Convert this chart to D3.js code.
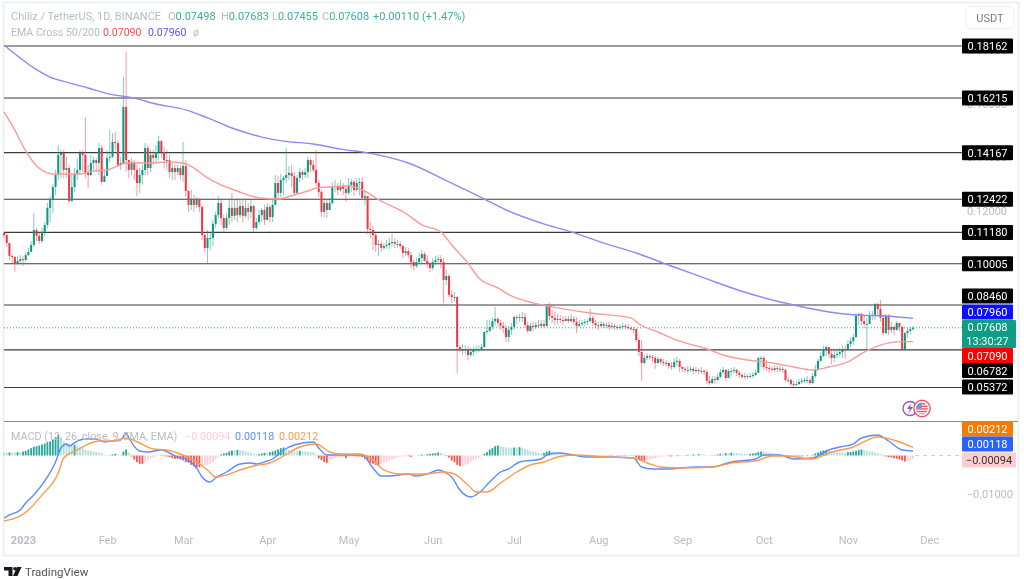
<!DOCTYPE html>
<html>
<head>
<meta charset="utf-8">
<title>Chiliz / TetherUS</title>
<script src="https://cdn.jsdelivr.net/npm/d3@7"></script>
<style>
  html, body { margin: 0; padding: 0; background: #fff; }
  svg { display: block; filter: blur(0.35px); }
  text { font-family: Roboto, "Open Sans", sans-serif; }
</style>
</head>
<body>
<div id="chart"></div>
<script>
// Daily candles in 1e-4 USDT, one value per day from 25 Dec 2022. Open = previous close.
const firstOpen = 1116;
const candleClose = [
  1108,1078,1030,1026,1003,1011,1018,1015,1033,1045, 1071,1127,1105,1086,1120,1146,1210,1240,1288,1333,
  1408,1416,1352,1359,1236,1288,1337,1352,1416,1408, 1341,1333,1378,1389,1378,1434,1307,1329,1397,1401,
  1457,1453,1371,1378,1588,1389,1352,1382,1352,1303, 1333,1352,1434,1359,1408,1397,1419,1460,1419,1389,
  1389,1344,1359,1344,1359,1333,1367,1273,1221,1240, 1221,1240,1213,1108,1060,1097,1097,1150,1183,1228,
  1172,1135,1172,1210,1180,1210,1183,1217,1180,1210, 1195,1217,1135,1157,1183,1202,1165,1213,1176,1221,
  1303,1266,1314,1322,1333,1341,1329,1266,1322,1344, 1333,1344,1389,1371,1352,1303,1269,1195,1228,1202,
  1228,1288,1292,1277,1292,1281,1266,1296,1307,1277, 1303,1307,1247,1254,1131,1127,1108,1071,1075,1060,
  1067,1071,1078,1082,1075,1075,1067,1041,1048,1033, 1007,992,1007,1022,1037,1011,1000,985,1007,1015,
  1018,1007,940,955,884,876,876,689,678,678, 681,659,670,678,681,681,689,745,749,764,
  786,794,779,768,760,726,753,764,801,798, 801,801,771,749,768,764,771,768,775,768,
  846,805,798,790,794,790,786,794,786,794, 783,768,775,779,783,786,798,779,771,768,
  775,768,771,764,768,764,760,764,768,764, 760,756,756,715,670,629,648,655,651,648,
  629,644,633,629,629,618,614,633,637,614, 607,603,603,607,599,603,599,599,595,562,
  554,569,565,577,595,603,573,599,599,603, 592,584,577,580,577,580,584,592,648,648,
  614,610,607,603,610,607,607,603,565,565, 550,547,550,558,562,565,565,554,580,603,
  637,655,681,689,663,648,659,663,670,681, 678,700,711,726,805,813,786,775,775,805,
  809,850,831,798,741,805,753,764,753,779, 764,681,741,749,756,761
];
const candleHigh = [
  1120,1116,1078,1037,1030,1030,1033,1030,1045,1060, 1086,1191,1135,1116,1135,1157,1228,1254,1299,1352,
  1445,1427,1427,1401,1371,1333,1359,1397,1427,1427, 1550,1371,1408,1401,1397,1453,1445,1352,1427,1502,
  1490,1494,1464,1401,1700,1794,1389,1397,1389,1371, 1359,1371,1453,1445,1427,1427,1445,1479,1464,1438,
  1427,1408,1382,1371,1371,1371,1457,1389,1277,1277, 1258,1251,1247,1221,1120,1127,1120,1165,1195,1254,
  1240,1183,1191,1240,1266,1240,1247,1240,1240,1243, 1228,1240,1221,1172,1202,1210,1221,1228,1221,1240,
  1333,1329,1337,1329,1434,1367,1371,1344,1333,1359, 1352,1359,1401,1397,1389,1427,1314,1277,1247,1240,
  1247,1307,1314,1303,1314,1303,1288,1322,1318,1314, 1322,1322,1322,1277,1254,1157,1142,1116,1090,1086,
  1078,1090,1097,1112,1097,1090,1086,1071,1063,1060, 1045,1015,1022,1041,1052,1045,1033,1007,1022,1030,
  1033,1033,1022,977,962,902,895,880,696,700, 696,693,685,689,693,696,700,749,790,790,
  798,839,801,790,783,771,768,779,805,809, 813,820,816,783,779,783,783,790,790,790,
  850,854,827,820,813,809,805,805,805,813, 805,801,790,790,794,794,831,805,790,783,
  786,783,783,783,779,775,771,775,779,775, 775,768,764,760,723,715,659,666,663,659,
  655,655,648,644,640,633,633,648,651,644, 618,614,618,618,614,614,610,614,607,603,
  580,580,580,588,607,614,607,607,610,614, 607,599,592,592,588,592,595,603,651,655,
  655,640,622,618,622,618,618,614,607,577, 569,562,562,569,573,573,580,573,592,622,
  644,670,693,693,681,681,674,678,685,696, 693,715,726,738,816,816,816,805,798,824,
  824,854,854,865,809,813,813,783,771,786, 779,768,745,760,764,768
];
const candleLow = [
  1097,1063,1015,1000,970,996,1000,992,1007,1030, 1045,1063,1086,1075,1078,1105,1135,1157,1191,1258,
  1314,1322,1322,1322,1228,1232,1269,1314,1333,1344, 1322,1284,1329,1352,1344,1333,1296,1307,1333,1382,
  1397,1427,1363,1352,1378,1344,1322,1333,1314,1254, 1266,1296,1333,1333,1344,1371,1378,1389,1397,1359,
  1352,1322,1314,1314,1333,1314,1307,1251,1195,1202, 1195,1210,1195,1090,1045,1003,1052,1067,1135,1172,
  1146,1120,1127,1146,1157,1165,1157,1172,1157,1172, 1165,1172,1120,1127,1146,1157,1146,1165,1157,1157,
  1221,1240,1251,1258,1303,1314,1288,1258,1266,1307, 1314,1322,1322,1344,1344,1292,1251,1176,1176,1172,
  1202,1221,1269,1258,1269,1258,1232,1258,1269,1254, 1269,1258,1240,1221,1112,1097,1052,1045,1030,1045,
  1052,1056,1056,1063,1060,1060,1056,1022,1030,1022, 985,977,985,1000,1003,1015,985,970,977,996,
  1003,985,854,921,876,854,858,592,670,659, 663,640,651,655,666,670,674,685,734,745,
  753,771,764,753,741,708,708,734,753,775, 783,783,760,741,745,749,756,760,760,760,
  764,790,779,771,775,779,771,783,779,779, 771,741,764,768,768,771,783,768,760,753,
  764,760,760,753,756,753,753,753,756,756, 753,749,741,708,655,562,625,640,640,633,
  607,625,622,618,618,607,603,607,618,595, 595,592,592,595,588,592,588,588,584,550,
  547,550,550,562,573,588,562,573,580,588, 580,573,569,569,569,573,573,580,592,614,
  603,599,592,595,595,595,595,592,558,554, 543,539,543,547,550,554,554,547,550,573,
  599,633,651,655,648,625,633,644,651,648, 644,674,689,696,723,771,771,760,681,783,
  790,790,805,783,734,738,734,741,734,749, 749,678,681,723,738,749
];

// EMA cross at the listed days (index into the candles)
const ema50Days = [0,3,8,12,16,18,23,28,33,38,42,45,48,53,60,66,70,75,80,87,94,101,107,112,115,120,126,133,137,149,154,161,165,171,175,182,187,195,202,216,231,234,241,249,258,265,274,283,291,298,304,311,317,323,329,335];
const ema50 = [1569,1520,1423,1367,1341,1337,1337,1337,1348,1352,1367,1378,1378,1378,1382,1378,1359,1322,1296,1269,1247,1243,1258,1273,1284,1288,1292,1273,1247,1183,1146,1120,1071,1003,947,910,880,854,839,816,798,775,745,711,685,659,640,629,614,603,614,633,670,696,708,709];
const ema200Days = [0,6,11,17,23,31,39,48,56,67,75,84,95,103,114,124,134,149,164,177,185,198,209,222,233,243,249,260,274,291,304,314,325,335];
const ema200 = [1820,1771,1734,1700,1681,1659,1636,1621,1599,1577,1547,1509,1475,1460,1449,1430,1416,1378,1307,1243,1202,1153,1120,1075,1041,1003,981,940,891,846,820,809,805,796];

// MACD in 1e-5 USDT
const macdDays = [0,2,6,8,11,16,19,21,23,24,27,30,34,37,40,43,45,46,50,53,58,61,64,67,71,73,76,78,82,87,91,93,97,99,103,107,114,116,119,124,132,136,139,142,149,152,157,160,163,165,168,172,175,179,183,186,190,198,200,204,210,214,222,232,235,239,245,249,255,261,268,277,280,286,291,298,304,308,313,316,322,326,331,335];
const macdLine = [-1652,-1565,-1433,-1249,-1039,-565,-171,197,302,250,381,434,434,355,381,408,592,460,118,92,145,66,-39,-92,-329,-565,-697,-592,-434,-224,-197,-224,-145,-92,145,276,355,197,13,13,13,-329,-539,-539,-487,-539,-460,-381,-460,-565,-907,-1091,-986,-697,-434,-355,-171,-92,13,66,13,-39,-39,-66,-302,-355,-355,-329,-302,-302,-171,-92,13,13,-92,-66,145,224,302,460,539,381,145,118];
const signalDays = [0,6,9,14,20,22,27,32,35,40,45,50,55,60,65,71,75,78,82,87,92,98,103,109,115,120,124,131,135,140,146,155,162,166,171,174,178,183,189,194,199,204,210,222,232,237,242,249,261,268,277,283,288,298,304,313,322,329,335];
const signalLine = [-1723,-1591,-1433,-1039,-460,-66,145,329,381,381,460,329,171,145,39,-171,-381,-565,-513,-381,-276,-197,-13,224,302,92,39,39,-66,-381,-487,-487,-434,-487,-776,-960,-960,-723,-434,-250,-171,-39,13,-39,-66,-197,-302,-329,-302,-197,-145,-13,-13,-92,66,224,487,381,212];
const macdHist = [
  70,70,79,79,79,88,88,105,123,158, 193,228,246,263,289,316,351,368,421,482,
  553,482,368,333,307,263,281,246,219,193, 158,132,123,105,88,70,70,26,9,-9,
  26,44,26,18,105,158,70,-26,-105,-175, -219,-219,-175,-132,-88,-53,-26,-9,-9,-18,
  -26,-44,-70,-88,-88,-105,-132,-175,-193,-246, -281,-307,-307,-281,-263,-246,-219,-175,-105,-44,
  26,53,70,105,132,132,149,132,132,105, 88,70,44,26,35,53,70,70,88,105,
  132,158,193,210,158,140,105,105,105,123, 105,105,105,88,88,35,-70,-123,-175,-193,
  -132,-105,-70,-53,-44,-35,-70,-26,-18,-18, -26,-26,-44,-88,-132,-193,-219,-246,-246,-219,
  -193,-175,-132,-105,-70,-44,-35,-26,-18,-18, -35,-18,-9,9,26,26,35,44,53,61,
  79,70,35,-18,-53,-132,-175,-246,-281,-263, -246,-219,-175,-132,-88,-53,-26,44,88,158,
  193,246,263,246,228,210,210,193,210,210, 219,202,175,149,123,105,88,70,53,70,
  105,123,88,70,53,35,26,18,9,9, -9,9,9,-9,9,9,-9,-9,9,-9,
  -9,9,-9,-9,-18,-9,9,-9,-9,-18, -9,-9,-9,-53,-105,-132,-140,-123,-105,-88,
  -70,-44,-35,-26,-18,-18,-26,-9,-18,9, 9,-9,18,18,26,26,35,26,18,9,
  9,-9,9,26,44,44,61,61,70,70, 61,53,44,44,35,44,53,70,88,105,
  105,88,79,70,53,35,18,9,-9,-18, -26,-26,-26,-26,-26,-18,-18,-9,18,53,
  79,114,132,140,123,114,96,88,79,79, 70,88,96,105,123,140,158,149,123,114,
  105,79,61,35,-9,-26,-44,-53,-70,-88, -105,-132,-158,-132,-114,-94
];

// Horizontal levels and axis ticks
const priceLevels = [0.18162, 0.16215, 0.14167, 0.12422, 0.11180, 0.10005, 0.08460, 0.06782, 0.05372];
const priceTicks = [0.18, 0.16, 0.14, 0.12];
const macdTicks = [-0.01];
const lastPrice = 0.07608;
const ema50Last = 0.07090;
const ema200Last = 0.07960;
const monthTicks = [[2023,0,'2023'],[2023,1,'Feb'],[2023,2,'Mar'],[2023,3,'Apr'],[2023,4,'May'],[2023,5,'Jun'],[2023,6,'Jul'],[2023,7,'Aug'],[2023,8,'Sep'],[2023,9,'Oct'],[2023,10,'Nov'],[2023,11,'Dec']];

const width = 1024, height = 579;
const left = 4, axisLeft = 962, frameRight = 1018;
const up = '#089981', down = '#f23645';
const greyText = '#b8bbc4';

const svg = d3.select('#chart').append('svg')
  .attr('width', width)
  .attr('height', height);

// One date per candle
const dates = candleClose.map((_, i) => new Date(Date.UTC(2022, 11, 25 + i)));
const x = d3.scaleUtc()
  .domain([dates[0], dates[dates.length - 1]])
  .range([left, 913]);
const y = d3.scaleLinear().domain([0.18162, 0.05372]).range([46, 387.5]);
const yMacd = d3.scaleLinear().domain([0, -0.01]).range([455.5, 493.5]);

// Frame round the panes
svg.append('rect')
  .attr('x', 3.5).attr('y', 2.5)
  .attr('width', frameRight - 3).attr('height', 553)
  .attr('fill', 'none').attr('stroke', '#eeeff1').attr('stroke-width', 2);
svg.append('line')
  .attr('x1', left).attr('x2', frameRight)
  .attr('y1', 421.5).attr('y2', 421.5)
  .attr('stroke', '#8a8a8a').attr('stroke-width', 1.2);

// Axis ticks go first, the price labels cover most of them
const tickFmt = d3.format('.5f');
const minus = s => s.replace('-', '\u2212');
svg.append('g')
  .attr('transform', 'translate(1010,0)')
  .call(d3.axisLeft(y).tickValues(priceTicks).tickSize(0).tickFormat(tickFmt))
  .call(g => g.select('.domain').remove())
  .call(g => g.selectAll('text').attr('fill', greyText).attr('font-size', 11));
svg.append('g')
  .attr('transform', 'translate(1016,0)')
  .call(d3.axisLeft(yMacd).tickValues(macdTicks).tickSize(0).tickFormat(d => minus(tickFmt(d))))
  .call(g => g.select('.domain').remove())
  .call(g => g.selectAll('text').attr('fill', greyText).attr('font-size', 11));

// Time axis
svg.append('g')
  .attr('transform', 'translate(0,533)')
  .call(d3.axisBottom(x)
    .tickValues(monthTicks.map(d => new Date(Date.UTC(d[0], d[1], 1))))
    .tickSize(0)
    .tickFormat((d, i) => monthTicks[i][2]))
  .call(g => g.select('.domain').remove())
  .call(g => g.selectAll('text')
    .attr('fill', greyText)
    .attr('font-size', 11)
    .attr('font-weight', (d, i) => i === 0 ? 700 : 400));

// Support and resistance lines
svg.append('g').selectAll('line')
  .data(priceLevels)
  .join('line')
  .attr('x1', left).attr('x2', axisLeft)
  .attr('y1', d => y(d)).attr('y2', d => y(d))
  .attr('stroke', '#3c3c3c').attr('stroke-width', 1.1);

// Last price dotted line
svg.append('line')
  .attr('x1', left).attr('x2', axisLeft)
  .attr('y1', y(lastPrice)).attr('y2', y(lastPrice))
  .attr('stroke', '#35a896').attr('stroke-width', 1)
  .attr('stroke-dasharray', '1 2');

// Candles
const candles = candleClose.map((c, i) => ({
  date: dates[i],
  open: (i ? candleClose[i - 1] : firstOpen) / 1e4,
  close: c / 1e4,
  high: candleHigh[i] / 1e4,
  low: candleLow[i] / 1e4
}));
const candleG = svg.append('g');
candleG.selectAll('line')
  .data(candles)
  .join('line')
  .attr('x1', d => x(d.date)).attr('x2', d => x(d.date))
  .attr('y1', d => y(d.high)).attr('y2', d => y(d.low))
  .attr('stroke', d => d.close >= d.open ? up : down)
  .attr('stroke-opacity', 0.5)
  .attr('stroke-width', 1);
candleG.selectAll('rect')
  .data(candles)
  .join('rect')
  .attr('x', d => x(d.date) - 1)
  .attr('width', 2)
  .attr('y', d => y(Math.max(d.open, d.close)))
  .attr('height', d => Math.max(1, Math.abs(y(d.open) - y(d.close))))
  .attr('fill', d => d.close >= d.open ? up : down);

// Moving averages
const drawLine = (days, values, unit, scale, color, w) => {
  const line = d3.line()
    .x(d => x(dates[d[0]]))
    .y(d => scale(d[1] / unit))
    .curve(d3.curveMonotoneX);
  svg.append('path')
    .datum(days.map((d, i) => [d, values[i]]))
    .attr('fill', 'none')
    .attr('stroke', color)
    .attr('stroke-width', w)
    .attr('d', line);
};
drawLine(ema50Days, ema50, 1e4, y, '#fb9a9a', 1.4);
drawLine(ema200Days, ema200, 1e4, y, '#8b8bf7', 1.4);

// MACD histogram, four shades as on TradingView
const histColor = (v, i) => {
  const prev = i ? macdHist[i - 1] : v;
  if (v >= 0) return prev < v ? '#26a69a' : '#b2dfdb';
  return prev < v ? '#ffcdd2' : '#ff5252';
};
svg.append('g').selectAll('rect')
  .data(macdHist)
  .join('rect')
  .attr('x', (d, i) => x(dates[i]) - 0.9)
  .attr('width', 1.8)
  .attr('y', d => Math.min(yMacd(d / 1e5), yMacd(0)))
  .attr('height', d => Math.abs(yMacd(d / 1e5) - yMacd(0)))
  .attr('fill', histColor);

svg.append('line')
  .attr('x1', 915).attr('x2', axisLeft)
  .attr('y1', yMacd(0)).attr('y2', yMacd(0))
  .attr('stroke', '#d0d0d0').attr('stroke-dasharray', '4 4');

drawLine(macdDays, macdLine, 1e5, yMacd, '#5b8cff', 1.4);
drawLine(signalDays, signalLine, 1e5, yMacd, '#ff9a4d', 1.4);

// Price labels on the right, pushed apart the way the chart stacks them
const priceLabels = [
  ...priceLevels.slice(0, 6).map(v => ({ text: tickFmt(v), cy: y(v), fill: '#000', color: '#fff' })),
  { text: tickFmt(priceLevels[6]), cy: 296, fill: '#000', color: '#fff' },
  { text: tickFmt(ema200Last), cy: 312, fill: '#0f0fff', color: '#fff' },
  { text: tickFmt(ema50Last), cy: 355.5, fill: '#ff0000', color: '#fff' },
  { text: tickFmt(priceLevels[7]), cy: 370.5, fill: '#000', color: '#fff' },
  { text: tickFmt(priceLevels[8]), cy: 387, fill: '#000', color: '#fff' },
  { text: '0.00212', cy: 429, fill: '#f57c00', color: '#fff' },
  { text: '0.00118', cy: 444, fill: '#2962ff', color: '#fff' },
  { text: '\u22120.00094', cy: 460, fill: '#ffcdd2', color: '#333', w: 54 }
];
const labelG = svg.append('g').selectAll('g')
  .data(priceLabels)
  .join('g')
  .attr('transform', d => `translate(${axisLeft},${d.cy})`);
labelG.append('rect')
  .attr('y', -7.5).attr('width', d => d.w || 51).attr('height', 15)
  .attr('rx', 1)
  .attr('fill', d => d.fill);
labelG.append('text')
  .attr('x', d => (d.w || 51) / 2)
  .attr('y', 4)
  .attr('text-anchor', 'middle')
  .attr('font-size', 11)
  .attr('fill', d => d.color)
  .text(d => d.text);

// Last price box with the countdown
const lastG = svg.append('g').attr('transform', `translate(${axisLeft},320)`);
lastG.append('rect')
  .attr('width', 54).attr('height', 28).attr('rx', 1).attr('fill', '#0f9d84');
lastG.selectAll('text')
  .data([tickFmt(lastPrice), '13:30:27'])
  .join('text')
  .attr('x', 25.5)
  .attr('y', (d, i) => 11 + i * 13.5)
  .attr('text-anchor', 'middle')
  .attr('font-size', 11)
  .attr('fill', '#fff')
  .text(d => d);

// USDT button
svg.append('rect')
  .attr('x', 966).attr('y', 6.5).attr('width', 48).attr('height', 22).attr('rx', 4)
  .attr('fill', '#fff').attr('stroke', '#eceef1');
svg.append('text')
  .attr('x', 990).attr('y', 22)
  .attr('text-anchor', 'middle').attr('font-size', 11).attr('fill', '#787b86')
  .text('USDT');

// Legends: each row is a list of text runs, a third field places the run
const legend = (yPos, runs, size) => {
  const t = svg.append('text')
    .attr('y', yPos)
    .attr('font-size', size);
  runs.forEach(r => t.append('tspan').attr('x', r[2]).attr('fill', r[1]).text(r[0]));
};
const teal = '#3fae9d';
legend(20, [
  ['Chiliz / TetherUS, 1D, BINANCE', greyText, 11],
  ['O', greyText, 168], ['0.07498', teal],
  ['H', greyText, 221], ['0.07683', teal],
  ['L', greyText, 272], ['0.07455', teal],
  ['C', greyText, 322], ['0.07608', teal],
  ['+0.00110 (+1.47%)', teal, 373]
], 11);
legend(36, [
  ['EMA Cross 50/200', greyText, 11],
  ['0.07090', '#ff4d4d', 103],
  ['0.07960', '#5555ff', 148],
  ['\u00f8', greyText, 193]
], 10.6);
legend(440, [
  ['MACD (12, 26, close, 9, EMA, EMA)', greyText, 11],
  ['\u22120.00094', '#ffcdd2', 185],
  ['0.00118', '#5b8cff', 235],
  ['0.00212', '#ff9a4d', 279]
], 10.8);

// Currency icons
const iconG = svg.append('g');
iconG.append('circle').attr('cx', 910).attr('cy', 408.5).attr('r', 7)
  .attr('fill', '#fff').attr('stroke', '#9c4fc9').attr('stroke-width', 1.4);
iconG.append('path').attr('d', 'M911 403l-4 6h3l-2 5 5-7h-3z').attr('fill', '#9c4fc9');
iconG.append('circle').attr('cx', 922).attr('cy', 408.5).attr('r', 8.2)
  .attr('fill', '#fff').attr('stroke', '#f0555f').attr('stroke-width', 1.4);
iconG.append('clipPath').attr('id', 'flag').append('circle')
  .attr('cx', 922).attr('cy', 408.5).attr('r', 6);
const flag = iconG.append('g').attr('clip-path', 'url(#flag)');
flag.selectAll('rect.stripe')
  .data(d3.range(5))
  .join('rect')
  .attr('class', 'stripe')
  .attr('x', 915).attr('width', 14)
  .attr('y', d => 403 + d * 2.6).attr('height', 1.4)
  .attr('fill', '#f0555f');
flag.append('rect').attr('x', 915).attr('y', 402).attr('width', 7).attr('height', 6).attr('fill', '#5aa0e6');

// TradingView mark
const logo = svg.append('g').attr('fill', '#131722');
logo.append('path').attr('d', 'M4 567h8.5v9h-4v-5.5H4z');
logo.append('circle').attr('cx', 15).attr('cy', 568.8).attr('r', 1.8);
logo.append('path').attr('d', 'M17 567h4.5L17.5 576h-4.5z');
svg.append('text')
  .attr('x', 25).attr('y', 576)
  .attr('font-size', 11.5)
  .attr('fill', '#50535e')
  .text('TradingView');
</script>
</body>
</html>
